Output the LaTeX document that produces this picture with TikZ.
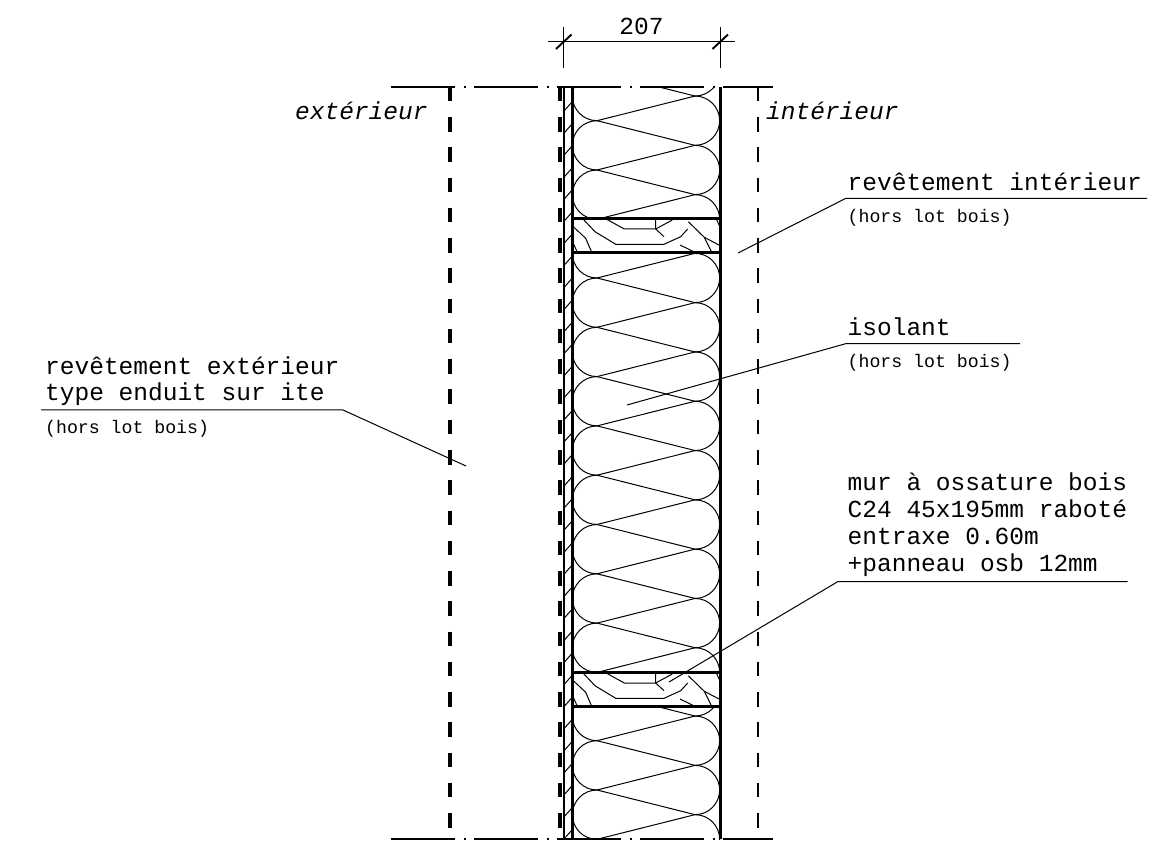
\documentclass[tikz,border=0pt]{standalone}
\usepackage{fontspec}
\setmonofont{Liberation Mono}
\usepackage{tikz}
\begin{document}
\begin{tikzpicture}[x=1pt,y=-1pt]
	\tikzstyle{thin_line} = [line width=1]
	\tikzstyle{wall_line} = [line width=3]
	\tikzstyle{board_line} = [line width=2.5]
	\tikzstyle{stud_line} = [line width=2.6]
	\tikzstyle{tick_line} = [line width=1.9]
	\tikzstyle{dash_ext} = [line width=3.6, dash pattern=on 14.5 off 15.75]
	\tikzstyle{dash_board} = [line width=4.2, dash pattern=on 14.5 off 15.75]
	\tikzstyle{dash_int} = [line width=2.4, dash pattern=on 14.5 off 15.75]
	\tikzstyle{cut_line} = [line width=1.2, dash pattern=on 64 off 9 on 2 off 8]
	\tikzstyle{big_text} = [font=\fontsize{24.5}{27}\selectfont\ttfamily, inner sep=0, anchor=base west, align=left]
	\tikzstyle{side_text} = [font=\fontsize{24.5}{27}\selectfont\ttfamily\itshape, inner sep=0, anchor=base west]
	\tikzstyle{small_text} = [font=\fontsize{18.2}{22}\selectfont\ttfamily, inner sep=0, anchor=base west]
	\useasboundingbox [fill=white] (0,0) rectangle (1170,858);
	% break lines
	\draw [cut_line] (391,87) -- (773,87);
	\draw [cut_line] (391,839) -- (773,839);
	% outer and inner faces
	\draw [dash_ext] (450,87) -- (450,839);
	\draw [dash_board] (560,87) -- (560,839);
	\draw [dash_int] (758,87) -- (758,839);
	% insulation, three bays
	\foreach \ya/\yb/\ys in {87/218.5/71.4, 252.5/672.5/228.7, 706.5/839/691.4} {
		\begin{scope}
			\clip (572,\ya) rectangle (720,\yb);
			\foreach \n in {0,...,9} {
				\pgfmathsetmacro{\yl}{\ys+49.3*\n}
				\pgfmathsetmacro{\yr}{\ys-24.65+49.3*\n}
				\draw [thin_line] (597,\yl) -- (695,\yr);
				\draw [thin_line] (597,\yl) -- (695,\yr+49.3);
				\draw [thin_line] (597,\yl) arc (-90:-270:24.65);
				\draw [thin_line] (695,\yr) arc (-90:90:24.65);
			}
		\end{scope}
	}
	% wood grain of both studs
	\foreach \dy in {0,454} {
		\begin{scope}[yshift=-\dy]
			\draw [thin_line] (606.7,219.3) -- (624.3,229) -- (655.7,229) -- (672.3,220);
			\draw [thin_line] (655.7,219.3) -- (655.7,229) -- (664,236.7);
			\draw [thin_line] (583.3,219.3) -- (595,231.7) -- (615.7,244.3) -- (664,244.3) -- (680.7,236.7) -- (687.7,229);
			\draw [thin_line] (573.3,226.7) -- (585.7,238.3) -- (591.7,252.3);
			\draw [thin_line] (573.3,243.3) -- (577.3,252.3);
			\draw [thin_line] (688.3,221.7) -- (704.3,237.3) -- (711.7,252.3);
			\draw [thin_line] (704.3,237.3) -- (719,245);
			\draw [thin_line] (680,245) -- (695,252.3);
			\draw [thin_line] (716.7,220) -- (720,226.7);
		\end{scope}
	}
	% panel hatch
	\foreach \n in {0,...,33} {
		\pgfmathsetmacro{\yh}{102+22.06*\n}
		\draw [thin_line] (564,\yh+9) -- (572,\yh);
	}
	% panel, studs and wall face
	\draw [board_line] (564,87) rectangle (572.5,839);
	\draw [wall_line] (720.5,87) -- (720.5,839);
	\draw [stud_line] (572,218.5) -- (720,218.5);
	\draw [stud_line] (572,252.5) -- (720,252.5);
	\draw [stud_line] (572,672.5) -- (720,672.5);
	\draw [stud_line] (572,706.5) -- (720,706.5);
	% dimension
	\coordinate (dim_l) at (548,42);
	\coordinate (dim_r) at (735,42);
	\draw [thin_line] (dim_l) -- (dim_r);
	\draw [thin_line] (563.5,27) -- (563.5,68);
	\draw [thin_line] (720.3,27) -- (720.3,68);
	\draw [tick_line] (556,49) -- (571.5,34.5);
	\draw [tick_line] (712.5,49) -- (728,34.5);
	\node [font=\fontsize{24.5}{29}\selectfont\ttfamily, inner sep=0, anchor=base] (dim_text) at (641.5,34.5) {207};
	% side labels
	\node [side_text] (ext_text) at (295,120) {extérieur};
	\node [side_text] (int_text) at (766,120) {intérieur};
	% lining label
	\node [big_text] (lining_text) at (847.5,190.5) {revêtement intérieur};
	\node [small_text] (lining_note) at (847.5,222.5) {(hors lot bois)};
	\coordinate (lining_a) at (845.7,198.4);
	\coordinate (lining_b) at (1147,198.4);
	\coordinate (lining_c) at (738,253);
	\draw [thin_line] (lining_b) -- (lining_a) -- (lining_c);
	% insulation label
	\node [big_text] (iso_text) at (847.5,336) {isolant};
	\node [small_text] (iso_note) at (847.5,367.5) {(hors lot bois)};
	\coordinate (iso_a) at (845.7,343.7);
	\coordinate (iso_b) at (1020,343.7);
	\coordinate (iso_c) at (627,405);
	\draw [thin_line] (iso_b) -- (iso_a) -- (iso_c);
	% frame label
	\node [big_text] (frame_text) at (847.5,571.5) {mur à ossature bois\\C24 45x195mm raboté\\entraxe 0.60m\\+panneau osb 12mm};
	\coordinate (frame_a) at (838,581.5);
	\coordinate (frame_b) at (1127.5,581.5);
	\coordinate (frame_c) at (669,682);
	\draw [thin_line] (frame_b) -- (frame_a) -- (frame_c);
	% render label
	\node [big_text, font=\fontsize{24.5}{26}\selectfont\ttfamily] (render_text) at (45,401) {revêtement extérieur\\type enduit sur ite};
	\node [small_text] (render_note) at (45,433) {(hors lot bois)};
	\coordinate (render_a) at (343,410);
	\coordinate (render_b) at (41,410);
	\coordinate (render_c) at (466,466);
	\draw [thin_line] (render_b) -- (render_a) -- (render_c);
\end{tikzpicture}
\end{document}
